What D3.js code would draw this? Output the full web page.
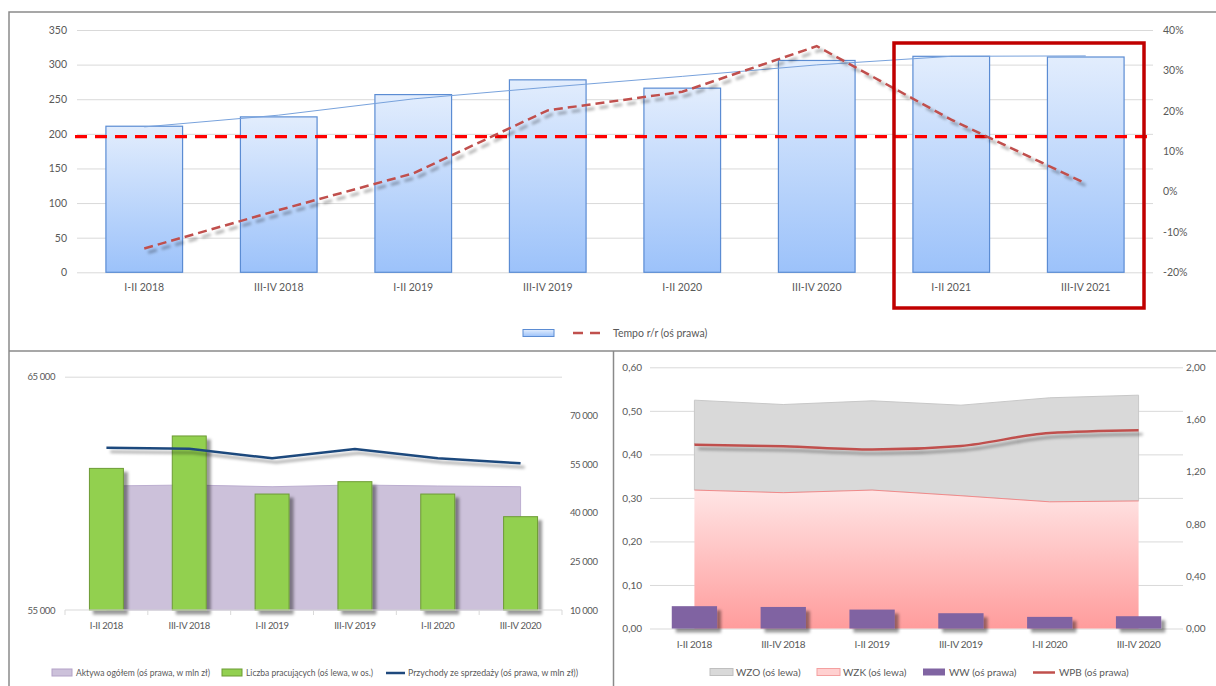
<!DOCTYPE html>
<html><head><meta charset="utf-8">
<script src="https://cdn.jsdelivr.net/npm/d3@7"></script>
<style>
body{margin:0;background:#fff}
svg{display:block}
text{font-family:Lato,"Open Sans",sans-serif;fill:#595959}
</style>
</head><body>
<svg id="c" width="1216" height="686"></svg>
<script>
// ---------- DATA ----------
const topCats = ["I-II 2018","III-IV 2018","I-II 2019","III-IV 2019","I-II 2020","III-IV 2020","I-II 2021","III-IV 2021"];
const topBars = [211, 224.5, 256.7, 278, 266, 306, 312, 311];
const topTrend = [210, 227, 250.5, 267.3, 283, 299.6, 312, 312.6];
const tempo = [-14.1, -4.6, 4.5, 20.1, 24.7, 36, 17.8, 2.0];   // %
const tempoRef = 13.6;                                          // %
const topLeftTicks = [0, 50, 100, 150, 200, 250, 300, 350];
const topRightTicks = [-20, -10, 0, 10, 20, 30, 40];

const blCats = ["I-II 2018","III-IV 2018","I-II 2019","III-IV 2019","I-II 2020","III-IV 2020"];
const workers = [61070, 62460, 59970, 60500, 59970, 59000];      // left axis
const assets = [48270, 48580, 48050, 48580, 48270, 48050];       // right axis
const revenue = [60090, 59780, 56820, 59690, 56820, 55270];      // right axis
const blLeftTicks = [55000, 65000];
const blRightTicks = [10000, 25000, 40000, 55000, 70000];

const brCats = ["I-II 2018","III-IV 2018","I-II 2019","III-IV 2019","I-II 2020","III-IV 2020"];
const wzk = [0.318, 0.312, 0.318, 0.305, 0.291, 0.293];
const wzo = [0.2065, 0.2025, 0.205, 0.208, 0.239, 0.243];
const ww = [0.171, 0.165, 0.145, 0.117, 0.089, 0.094];
const wpb = [1.408, 1.395, 1.370, 1.398, 1.497, 1.518];
const brLeftTicks = [0, 0.1, 0.2, 0.3, 0.4, 0.5, 0.6];
const brRightTicks = [0, 0.4, 0.8, 1.2, 1.6, 2.0];

// ---------- SETUP ----------
const svg = d3.select("#c");
const defs = svg.append("defs");
function vgrad(id, c0, c1){
  const g = defs.append("linearGradient").attr("id", id).attr("x1",0).attr("y1",0).attr("x2",0).attr("y2",1);
  g.append("stop").attr("offset",0).attr("stop-color",c0);
  g.append("stop").attr("offset",1).attr("stop-color",c1);
}
vgrad("gBlue", "#e2edfd", "#9cc2fa");
vgrad("gPink", "#ffe5e5", "#ff9c9c");
function shadow(id, dx, dy, sd, op){
  const f = defs.append("filter").attr("id", id).attr("filterUnits","userSpaceOnUse")
    .attr("x",0).attr("y",0).attr("width",1216).attr("height",686);
  f.append("feDropShadow").attr("dx",dx).attr("dy",dy).attr("stdDeviation",sd)
    .attr("flood-color","#000").attr("flood-opacity",op);
}
shadow("shLine", 4, 4, 1.6, 0.35);
shadow("shBar", 4, 4, 1.5, 0.4);

const spaceFmt = d => d3.format(",")(d).replace(/,/g, " ");
const commaFmt = d => d3.format(".2f")(d).replace(".", ",");

function clean(g){ g.select(".domain").remove(); return g; }

// ---------- PANEL BORDERS ----------
svg.append("path").attr("d","M9,686V12H1216M9,351H1216M613.5,351V686")
  .attr("fill","none").attr("stroke","#8a8a8a").attr("stroke-width",1.5);

// ---------- TOP CHART ----------
(function(){
  const x = d3.scaleBand().domain(topCats).range([77,1153]).paddingInner(0.43).paddingOuter(0.215);
  const yL = d3.scaleLinear().domain([0,350]).range([272.3,30]);
  const yR = d3.scaleLinear().domain([-20,40]).range([272.3,30]);
  const cx = c => x(c) + x.bandwidth()/2;
  const g = svg.append("g");

  g.append("g").attr("transform","translate(77,0)")
    .call(d3.axisLeft(yL).tickValues(topLeftTicks).tickSize(-1076).tickFormat(""))
    .call(clean).selectAll("line").attr("stroke","#d9d9d9");

  g.append("g").attr("transform","translate(77,0)")
    .call(d3.axisLeft(yL).tickValues(topLeftTicks).tickSize(0).tickPadding(10))
    .call(clean).selectAll("text").style("font-size","10.5px").style("fill","#595959");
  g.append("g").attr("transform","translate(1153,0)")
    .call(d3.axisRight(yR).tickValues(topRightTicks).tickSize(0).tickPadding(10).tickFormat(d => d + "%"))
    .call(clean).selectAll("text").style("font-size","10.5px").style("fill","#595959");
  g.append("g").attr("transform","translate(0,272.3)")
    .call(d3.axisBottom(x).tickSize(0).tickPadding(11))
    .call(clean).selectAll("text").style("font-size","10.5px").style("fill","#595959");

  g.selectAll("rect.bar").data(topBars).join("rect").attr("class","bar")
    .attr("x",(d,i)=>x(topCats[i])).attr("width",x.bandwidth())
    .attr("y",d=>yL(d)).attr("height",d=>yL(0)-yL(d))
    .attr("fill","url(#gBlue)").attr("stroke","#5b8cd3").attr("stroke-width",1.2);

  g.append("path").datum(topTrend)
    .attr("d", d3.line().x((d,i)=>cx(topCats[i])).y(d=>yL(d)))
    .attr("fill","none").attr("stroke","#78a2dc").attr("stroke-width",1);

  g.append("line").attr("x1",75).attr("x2",1153).attr("y1",yR(tempoRef)).attr("y2",yR(tempoRef))
    .attr("stroke","#ff0000").attr("stroke-width",3.3).attr("stroke-dasharray","12,8");

  g.append("path").datum(tempo)
    .attr("d", d3.line().x((d,i)=>cx(topCats[i])).y(d=>yR(d)))
    .attr("fill","none").attr("stroke","#c0504d").attr("stroke-width",2.5)
    .attr("stroke-dasharray","9,5").attr("filter","url(#shLine)");

  g.append("rect").attr("x",894).attr("y",43).attr("width",250).attr("height",265)
    .attr("fill","none").attr("stroke","#c00000").attr("stroke-width",3.5);

  // legend
  g.append("rect").attr("x",523).attr("y",329.5).attr("width",31).attr("height",7)
    .attr("fill","url(#gBlue)").attr("stroke","#5b8cd3").attr("stroke-width",1);
  g.append("line").attr("x1",573).attr("x2",600).attr("y1",333).attr("y2",333)
    .attr("stroke","#c0504d").attr("stroke-width",2.5).attr("stroke-dasharray","10,7");
  g.append("text").attr("x",613).attr("y",333).attr("dy","0.35em").style("font-size","10.5px")
    .text("Tempo r/r (oś prawa)");
})();

// ---------- BOTTOM LEFT ----------
(function(){
  const x = d3.scaleBand().domain(blCats).range([65,562]).paddingInner(0.59).paddingOuter(0.295);
  const yL = d3.scaleLinear().domain([55000,65000]).range([610,376.7]);
  const yR = d3.scaleLinear().domain([10000,82000]).range([610,376.7]);
  const cx = c => x(c) + x.bandwidth()/2;
  const g = svg.append("g");

  g.append("g").attr("transform","translate(65,0)")
    .call(d3.axisLeft(yL).tickValues([65000]).tickSize(-497).tickFormat(""))
    .call(clean).selectAll("line").attr("stroke","#d9d9d9");

  g.append("path").datum(assets)
    .attr("d", d3.area().x((d,i)=>cx(blCats[i])).y0(yR(10000)).y1(d=>yR(d)))
    .attr("fill","#ccc1da").attr("stroke","#bcaed0").attr("stroke-width",1);

  g.selectAll("rect.bar").data(workers).join("rect").attr("class","bar")
    .attr("x",(d,i)=>x(blCats[i])).attr("width",x.bandwidth())
    .attr("y",d=>yL(d)).attr("height",d=>yL(55000)-yL(d))
    .attr("fill","#92d050").attr("stroke","#6d9b35").attr("stroke-width",1)
    .attr("filter","url(#shBar)");

  g.append("path").datum(revenue)
    .attr("d", d3.line().x((d,i)=>cx(blCats[i])).y(d=>yR(d)))
    .attr("fill","none").attr("stroke","#1f497d").attr("stroke-width",2.5)
    .attr("filter","url(#shLine)");

  // baseline & category ticks
  g.append("line").attr("x1",65).attr("x2",562).attr("y1",610).attr("y2",610).attr("stroke","#d9d9d9");
  g.selectAll("line.ct").data(d3.range(blCats.length+1)).join("line").attr("class","ct")
    .attr("x1",i=>x.range()[0]+i*x.step()).attr("x2",i=>x.range()[0]+i*x.step())
    .attr("y1",610).attr("y2",615).attr("stroke","#d9d9d9");

  g.append("g").attr("transform","translate(65,0)")
    .call(d3.axisLeft(yL).tickValues(blLeftTicks).tickSize(0).tickPadding(10).tickFormat(spaceFmt))
    .call(clean).selectAll("text").style("font-size","9.5px").style("fill","#595959").style("letter-spacing","-0.4px");
  g.append("g").attr("transform","translate(562,0)")
    .call(d3.axisRight(yR).tickValues(blRightTicks).tickSize(0).tickPadding(8).tickFormat(spaceFmt))
    .call(clean).selectAll("text").style("font-size","9.5px").style("fill","#595959").style("letter-spacing","-0.4px");
  g.append("g").attr("transform","translate(0,610)")
    .call(d3.axisBottom(x).tickSize(0).tickPadding(12.5))
    .call(clean).selectAll("text").style("font-size","9.5px").style("fill","#595959").style("letter-spacing","-0.3px");

  // legend
  const ly = 673;
  g.append("rect").attr("x",52).attr("y",ly-4).attr("width",20).attr("height",7).attr("fill","#ccc1da").attr("stroke","#b3a2c7");
  g.append("text").attr("x",76).attr("y",ly).attr("dy","0.35em").style("font-size","9.5px")
    .attr("textLength",134).attr("lengthAdjust","spacingAndGlyphs").text("Aktywa ogółem (oś prawa, w mln zł)");
  g.append("rect").attr("x",222).attr("y",ly-4).attr("width",20).attr("height",7).attr("fill","#92d050").attr("stroke","#6d9b35");
  g.append("text").attr("x",246).attr("y",ly).attr("dy","0.35em").style("font-size","9.5px")
    .attr("textLength",127).attr("lengthAdjust","spacingAndGlyphs").text("Liczba pracujących (oś lewa, w os.)");
  g.append("line").attr("x1",386).attr("x2",405).attr("y1",ly).attr("y2",ly).attr("stroke","#1f497d").attr("stroke-width",2.5);
  g.append("text").attr("x",408).attr("y",ly).attr("dy","0.35em").style("font-size","9.5px")
    .attr("textLength",170).attr("lengthAdjust","spacingAndGlyphs").text("Przychody ze sprzedaży (oś prawa, w mln zł))");
})();

// ---------- BOTTOM RIGHT ----------
(function(){
  const x = d3.scaleBand().domain(brCats).range([650,1183]).paddingInner(0.49).paddingOuter(0.245);
  const yL = d3.scaleLinear().domain([0,0.6]).range([628.5,367.3]);
  const yR = d3.scaleLinear().domain([0,2]).range([628.5,367.3]);
  const cx = c => x(c) + x.bandwidth()/2;
  const g = svg.append("g");

  g.append("g").attr("transform","translate(650,0)")
    .call(d3.axisLeft(yL).tickValues(brLeftTicks).tickSize(-533).tickFormat(""))
    .call(clean).selectAll("line").attr("stroke","#d9d9d9");

  const stacked = brCats.map((c,i)=>({c, k:wzk[i], t:wzk[i]+wzo[i]}));
  g.append("path").datum(stacked)
    .attr("d", d3.area().x(d=>cx(d.c)).y0(d=>yL(d.k)).y1(d=>yL(d.t)))
    .attr("fill","#d9d9d9").attr("stroke","#c8c8c8").attr("stroke-width",1);
  g.append("path").datum(stacked)
    .attr("d", d3.area().x(d=>cx(d.c)).y0(yL(0)).y1(d=>yL(d.k)))
    .attr("fill","url(#gPink)");
  g.append("path").datum(stacked)
    .attr("d", d3.line().x(d=>cx(d.c)).y(d=>yL(d.k)))
    .attr("fill","none").attr("stroke","#f08a8a").attr("stroke-width",1);

  g.selectAll("rect.bar").data(ww).join("rect").attr("class","bar")
    .attr("x",(d,i)=>x(brCats[i])).attr("width",x.bandwidth())
    .attr("y",d=>yR(d)).attr("height",d=>yR(0)-yR(d))
    .attr("fill","#8064a2").attr("filter","url(#shBar)");

  g.append("path").datum(wpb)
    .attr("d", d3.line().curve(d3.curveMonotoneX).x((d,i)=>cx(brCats[i])).y(d=>yR(d)))
    .attr("fill","none").attr("stroke","#c0504d").attr("stroke-width",2.5)
    .attr("filter","url(#shLine)");

  g.append("g").attr("transform","translate(650,0)")
    .call(d3.axisLeft(yL).tickValues(brLeftTicks).tickSize(0).tickPadding(8).tickFormat(commaFmt))
    .call(clean).selectAll("text").style("font-size","10px").style("fill","#595959");
  g.append("g").attr("transform","translate(1183,0)")
    .call(d3.axisRight(yR).tickValues(brRightTicks).tickSize(0).tickPadding(3).tickFormat(commaFmt))
    .call(clean).selectAll("text").style("font-size","10px").style("fill","#595959");
  g.append("g").attr("transform","translate(0,628.5)")
    .call(d3.axisBottom(x).tickSize(0).tickPadding(12.5))
    .call(clean).selectAll("text").style("font-size","10px").style("fill","#595959").style("letter-spacing","-0.3px");

  // legend
  const ly = 672.5;
  g.append("rect").attr("x",710).attr("y",ly-4).attr("width",23).attr("height",7).attr("fill","#d9d9d9").attr("stroke","#bfbfbf");
  g.append("text").attr("x",736).attr("y",ly).attr("dy","0.35em").style("font-size","10px").text("WZO (oś lewa)");
  g.append("rect").attr("x",817).attr("y",ly-4).attr("width",23).attr("height",7).attr("fill","#ffd0d0").attr("stroke","#f4a0a0");
  g.append("text").attr("x",843).attr("y",ly).attr("dy","0.35em").style("font-size","10px").text("WZK (oś lewa)");
  g.append("rect").attr("x",923).attr("y",ly-4).attr("width",22).attr("height",7).attr("fill","#8064a2");
  g.append("text").attr("x",949).attr("y",ly).attr("dy","0.35em").style("font-size","10px").text("WW (oś prawa)");
  g.append("line").attr("x1",1033).attr("x2",1055).attr("y1",ly).attr("y2",ly).attr("stroke","#c0504d").attr("stroke-width",2.5);
  g.append("text").attr("x",1059).attr("y",ly).attr("dy","0.35em").style("font-size","10px").text("WPB (oś prawa)");
})();
</script>
</body></html>
